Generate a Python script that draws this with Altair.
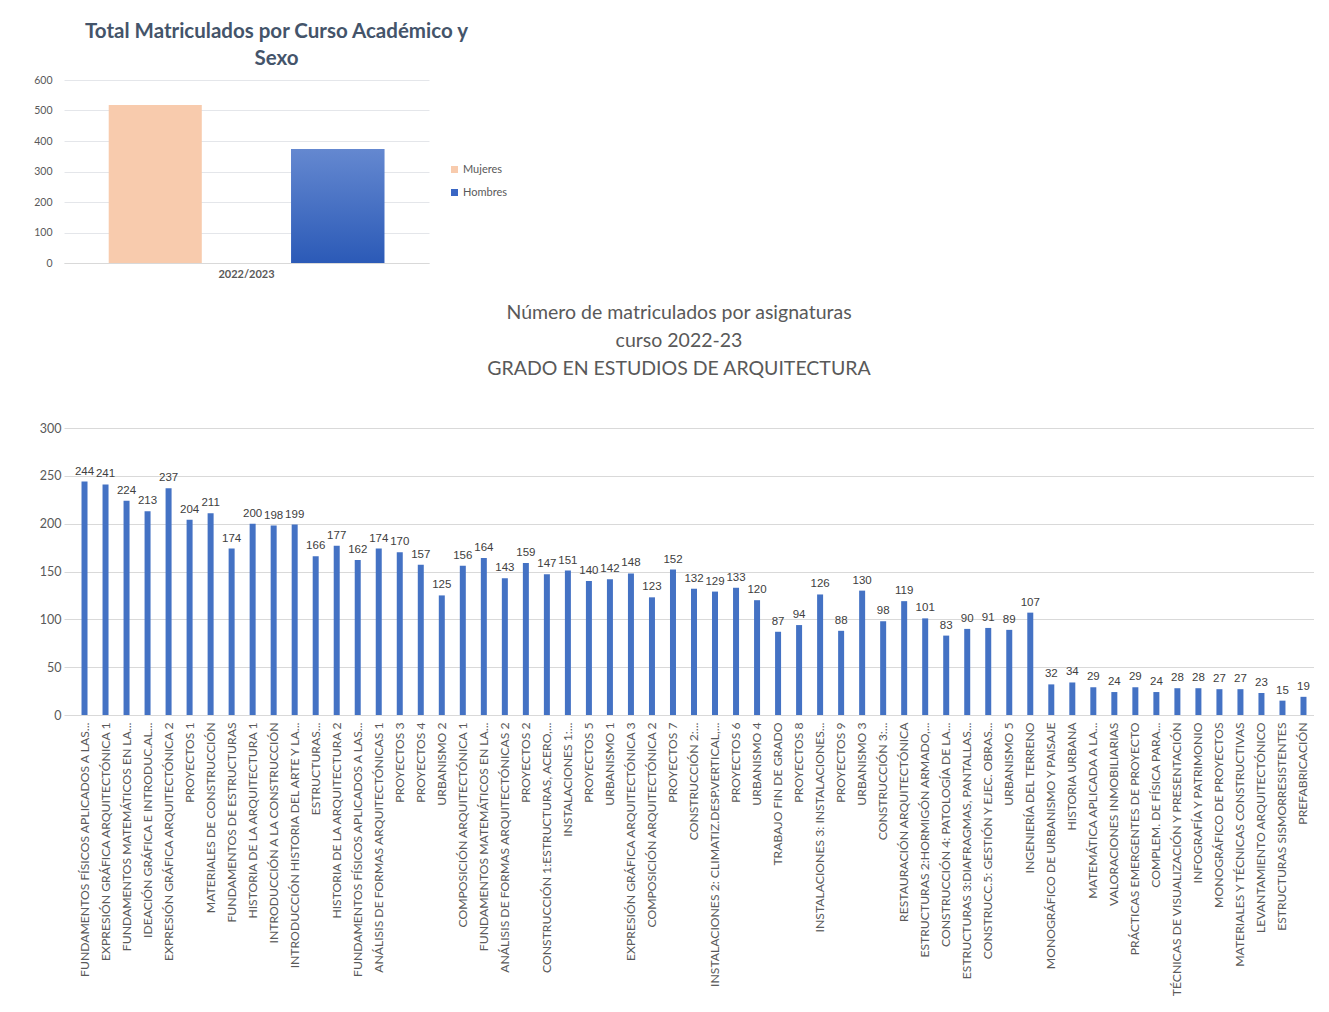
import altair as alt
import pandas as pd

# ---------------- data ----------------
cursos = ["2022/2023"]
sexos = ["Mujeres", "Hombres"]
matriculados_sexo = [518, 374]

asignaturas = [
    "FUNDAMENTOS FÍSICOS APLICADOS A LAS...",
    "EXPRESIÓN GRÁFICA ARQUITECTÓNICA 1",
    "FUNDAMENTOS MATEMÁTICOS EN LA...",
    "IDEACIÓN GRÁFICA E INTRODUC.AL...",
    "EXPRESIÓN GRÁFICA ARQUITECTÓNICA 2",
    "PROYECTOS 1",
    "MATERIALES  DE CONSTRUCCIÓN",
    "FUNDAMENTOS DE ESTRUCTURAS",
    "HISTORIA DE LA ARQUITECTURA 1",
    "INTRODUCCIÓN A LA CONSTRUCCIÓN",
    "INTRODUCCIÓN HISTORIA DEL ARTE Y LA...",
    "ESTRUCTURAS...",
    "HISTORIA DE LA ARQUITECTURA 2",
    "FUNDAMENTOS FÍSICOS APLICADOS A LAS...",
    "ANÁLISIS DE FORMAS ARQUITECTÓNICAS 1",
    "PROYECTOS 3",
    "PROYECTOS 4",
    "URBANISMO 2",
    "COMPOSICIÓN ARQUITECTÓNICA 1",
    "FUNDAMENTOS MATEMÁTICOS EN LA...",
    "ANÁLISIS DE FORMAS ARQUITECTÓNICAS 2",
    "PROYECTOS 2",
    "CONSTRUCCIÓN 1:ESTRUCTURAS, ACERO,...",
    "INSTALACIONES 1:...",
    "PROYECTOS 5",
    "URBANISMO 1",
    "EXPRESIÓN GRÁFICA ARQUITECTÓNICA 3",
    "COMPOSICIÓN ARQUITECTÓNICA 2",
    "PROYECTOS 7",
    "CONSTRUCCIÓN 2:...",
    "INSTALACIONES 2: CLIMATIZ.DESP.VERTICAL,...",
    "PROYECTOS 6",
    "URBANISMO 4",
    "TRABAJO FIN DE GRADO",
    "PROYECTOS 8",
    "INSTALACIONES 3: INSTALACIONES...",
    "PROYECTOS 9",
    "URBANISMO 3",
    "CONSTRUCCIÓN 3:...",
    "RESTAURACIÓN  ARQUITECTÓNICA",
    "ESTRUCTURAS 2:HORMIGÓN ARMADO,...",
    "CONSTRUCCIÓN  4: PATOLOGÍA DE LA...",
    "ESTRUCTURAS 3:DIAFRAGMAS, PANTALLAS...",
    "CONSTRUCC.5: GESTIÓN Y EJEC. OBRAS...",
    "URBANISMO 5",
    "INGENIERÍA DEL TERRENO",
    "MONOGRÁFICO DE URBANISMO Y PAISAJE",
    "HISTORIA  URBANA",
    "MATEMÁTICA  APLICADA A LA...",
    "VALORACIONES INMOBILIARIAS",
    "PRÁCTICAS EMERGENTES DE PROYECTO",
    "COMPLEM. DE FÍSICA PARA...",
    "TÉCNICAS DE VISUALIZACIÓN Y PRESENTACIÓN",
    "INFOGRAFÍA Y PATRIMONIO",
    "MONOGRÁFICO DE PROYECTOS",
    "MATERIALES Y TÉCNICAS CONSTRUCTIVAS",
    "LEVANTAMIENTO  ARQUITECTÓNICO",
    "ESTRUCTURAS SISMORRESISTENTES",
    "PREFABRICACIÓN",
]
matriculados = [
    244, 241, 224, 213, 237, 204, 211, 174, 200, 198,
    199, 166, 177, 162, 174, 170, 157, 125, 156, 164,
    143, 159, 147, 151, 140, 142, 148, 123, 152, 132,
    129, 133, 120, 87, 94, 126, 88, 130, 98, 119,
    101, 83, 90, 91, 89, 107, 32, 34, 29, 24,
    29, 24, 28, 28, 27, 27, 23, 15, 19,
]

# ---------------- styles ----------------
FONT = "Lato"
NUMFONT = "Liberation Sans Narrow, Liberation Sans, Arial"
GREY = "#595959"

# ---------------- top chart ----------------
df_top = pd.DataFrame({
    "curso": cursos * len(sexos),
    "sexo": sexos,
    "n": matriculados_sexo,
})

x_top = alt.X(
    "curso:N", title=None,
    scale=alt.Scale(paddingInner=0, paddingOuter=0),
    axis=alt.Axis(labelAngle=0, labelFontWeight="bold", labelFontSize=11,
                  labelFont=FONT, labelColor=GREY, ticks=False,
                  domainColor="#D9D9D9", labelPadding=5),
)
xo_top = alt.XOffset("sexo:N", sort=sexos,
                     scale=alt.Scale(domain=sexos, paddingInner=0.49, paddingOuter=0.245))
y_top = alt.Y(
    "n:Q", title=None,
    scale=alt.Scale(domain=[0, 600]),
    axis=alt.Axis(values=[0, 100, 200, 300, 400, 500, 600], grid=True,
                  gridColor="#E4E6EA", domain=False, ticks=False,
                  labelPadding=12, labelFontSize=10.5, labelFont=FONT,
                  labelColor=GREY),
)

bars_top = alt.Chart(df_top).mark_bar().encode(
    x=x_top, xOffset=xo_top, y=y_top,
    color=alt.Color(
        "sexo:N", sort=sexos,
        scale=alt.Scale(domain=sexos, range=["#F8CBAD", "#3A66C4"]),
        legend=alt.Legend(title=None, orient="none", legendX=385, legendY=84,
                          symbolType="square", symbolSize=49,
                          labelFont=FONT, labelFontSize=11, labelColor=GREY,
                          rowPadding=11, symbolStrokeWidth=0, labelOffset=3),
    ),
)
grad_top = alt.Chart(df_top).transform_filter(
    alt.datum.sexo == "Hombres"
).mark_bar(
    fill=alt.Gradient(
        gradient="linear",
        stops=[alt.GradientStop(color="#6488D0", offset=0),
               alt.GradientStop(color="#2B5AB7", offset=1)],
        x1=0, x2=0, y1=0, y2=1,
    )
).encode(x=x_top, xOffset=xo_top, y=y_top)

top = alt.layer(bars_top, grad_top).properties(
    width=365, height=183,
    title=alt.TitleParams(
        ["Total Matriculados  por Curso Académico y", "Sexo"],
        font=FONT, fontSize=20.5, fontWeight="bold", color="#44546A",
        lineHeight=27, offset=6, anchor="middle", dx=30,
    ),
)

# ---------------- bottom chart ----------------
keys = []
seen = {}
for a in asignaturas:
    seen[a] = seen.get(a, 0) + 1
    keys.append(a + "\u200b" * (seen[a] - 1))

df_bot = pd.DataFrame({"asig": keys, "n": matriculados})

base_bot = alt.Chart(df_bot).encode(
    x=alt.X(
        "asig:N", sort=None, title=None,
        scale=alt.Scale(paddingInner=0, paddingOuter=0.238, align=1),
        axis=alt.Axis(labelAngle=-90, labelFont=FONT, labelFontSize=12.2,
                      labelColor=GREY, ticks=False, domain=False,
                      labelPadding=7, labelLimit=400),
    ),
    y=alt.Y(
        "n:Q", title=None,
        scale=alt.Scale(domain=[0, 300]),
        axis=alt.Axis(values=[0, 50, 100, 150, 200, 250, 300], grid=True,
                      gridColor="#D9D9D9", domain=False, ticks=False,
                      labelPadding=3, labelFontSize=12.5, labelFont=FONT,
                      labelColor=GREY),
    ),
)
bars_bot = base_bot.mark_bar(width=6, color="#4472C4")
text_bot = base_bot.mark_text(baseline="alphabetic", dy=-7, font=NUMFONT,
                              fontSize=11.5, color="#404040").encode(text="n:Q")

bottom = alt.layer(bars_bot, text_bot).properties(
    width=1250, height=287,
    title=alt.TitleParams(
        ["Número de matriculados por asignaturas", "curso 2022-23",
         "GRADO EN ESTUDIOS DE ARQUITECTURA"],
        font=FONT, fontSize=19.5, fontWeight="normal", color=GREY,
        lineHeight=28, offset=43, anchor="middle", dx=-10,
    ),
)

chart = alt.vconcat(top, bottom, spacing=23).properties(
    padding={"left": 25, "top": 13, "right": 0, "bottom": 0},
    background="white",
).configure_view(stroke=None)

chart.save("out.html", embed_options={"renderer": "svg", "actions": False})
